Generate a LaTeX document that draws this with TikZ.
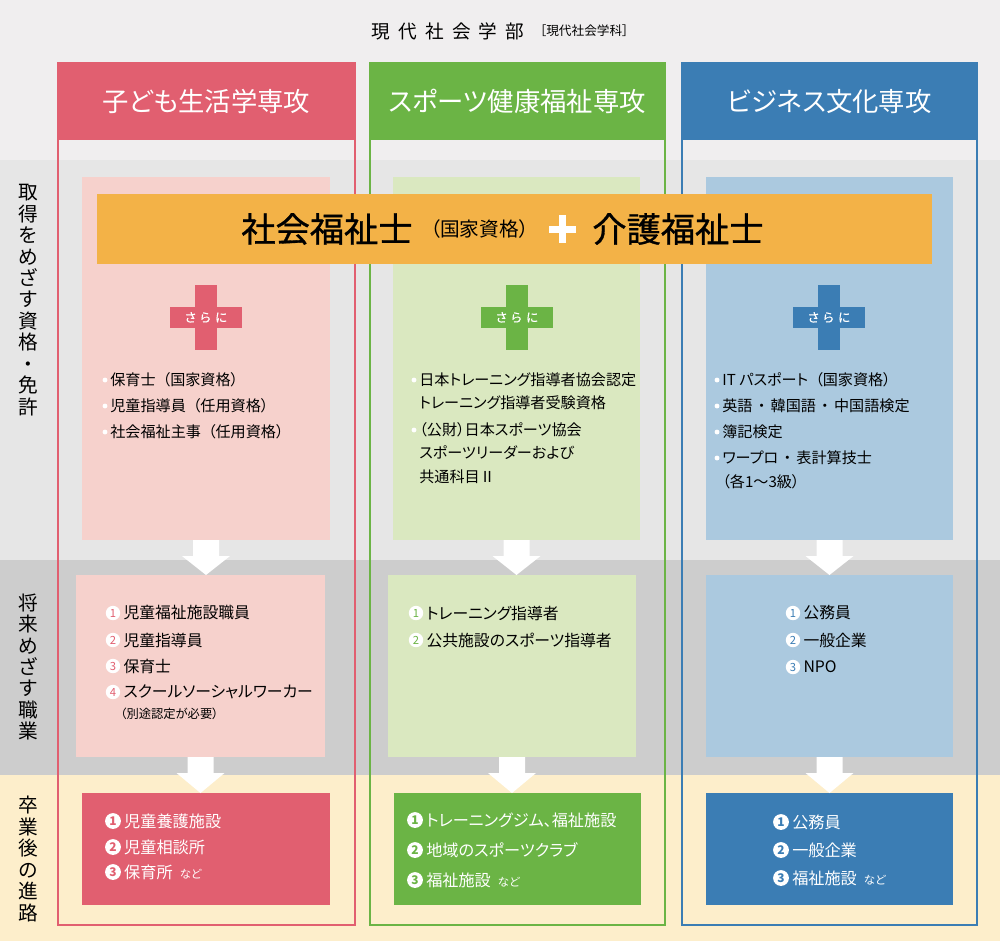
\documentclass[tikz,border=0pt]{standalone}
\usepackage{fontspec}
\setmainfont[RawFeature=+palt]{Noto Sans CJK JP}
\usetikzlibrary{positioning,fit,calc}

\definecolor{pinkD}{HTML}{E15F70}
\definecolor{pinkL}{HTML}{F6D1CC}
\definecolor{greenD}{HTML}{6BB445}
\definecolor{greenL}{HTML}{DAE8C0}
\definecolor{blueD}{HTML}{3B7DB4}
\definecolor{blueL}{HTML}{ABC9DF}
\definecolor{orng}{HTML}{F3B247}
\definecolor{bgTop}{HTML}{F0EEEF}
\definecolor{bandA}{HTML}{E6E6E6}
\definecolor{bandB}{HTML}{CDCDCD}
\definecolor{bandC}{HTML}{FDEECB}

\tikzset{
  panel/.style={fill=#1, inner sep=0, outer sep=0},
  colhead/.style={text=white, font=\fontsize{15}{16}\selectfont},
  sidelabel/.style={align=center, inner sep=0, font=\fontsize{11.2}{12.2}\selectfont},
  sarani/.style={text=white, inner sep=0, font=\fontsize{7}{8}\selectfont\addfontfeature{FakeBold=0.6}},
  item/.style={anchor=west, inner sep=0, font=\fontsize{8.6}{10}\selectfont},
  job/.style={anchor=west, inner sep=0, font=\fontsize{9}{10}\selectfont},
  dest/.style={anchor=west, inner sep=0, text=white, font=\fontsize{9.2}{10}\selectfont},
  numc/.style={circle, fill=white, inner sep=0, minimum size=8.2pt, text=#1, font=\fontsize{6.4}{6.4}\selectfont},
  numd/.style={circle, fill=white, inner sep=0, minimum size=9pt, text=#1, font=\fontsize{6.8}{6.8}\selectfont\bfseries},
  cert/.style={font=\fontsize{19.5}{20}\selectfont\addfontfeature{FakeBold=0.9}},
  flow/.style={fill=white},
}
\newcommand\nado{\hspace{4pt}{\fontsize{6.5}{7}\selectfont など}}
\newcommand\nk{\hspace{3pt}・\hspace{3pt}}
\newcommand\kk{\hspace{4pt}（}
\newcommand\flowarrow[2]{%
  \path (#1.south) coordinate (#1tail) (#1.south |- #2.north) coordinate (#1tip);
  \fill[flow] ($(#1tail)+(-13,0)$) -- ($(#1tail)+(13,0)$) -- ($(#1tail)+(13,16)$)
    -- ($(#1tail)+(24,16)$) -- (#1tip) -- ($(#1tail)+(-24,16)$) -- ($(#1tail)+(-13,16)$) -- cycle;}

\begin{document}
\begin{tikzpicture}[x=0.02cm,y=-0.02cm]
  \useasboundingbox (0,0) rectangle (1000,941);

  % bands
  \fill[bgTop] (0,0) rectangle (1000,160);
  \fill[bandA] (0,160) rectangle (1000,560);
  \fill[bandB] (0,560) rectangle (1000,775);
  \fill[bandC] (0,775) rectangle (1000,941);

  \node (dept) at (448,31) {\fontsize{10.6}{12}\selectfont 現\hspace{4.6pt}代\hspace{4.6pt}社\hspace{4.6pt}会\hspace{4.6pt}学\hspace{4.6pt}部};
  \node[right=2pt of dept, font=\fontsize{7.2}{8}\selectfont] (deptsub) {［現代社会学科］};

  % side labels
  \node[sidelabel] (sideA) at (28,300) {取\\得\\を\\め\\ざ\\す\\資\\格\\・\\免\\許};
  \node[sidelabel] (sideB) at (28,667) {将\\来\\め\\ざ\\す\\職\\業};
  \node[sidelabel] (sideC) at (28,859) {卒\\業\\後\\の\\進\\路};

  % columns
  \draw[pinkD, line width=1.1pt] (58,63) rectangle (355,925);
  \draw[greenD, line width=1.1pt] (370,63) rectangle (665,925);
  \draw[blueD, line width=1.1pt] (682,63) rectangle (977,925);
  \node[panel=pinkD, fit={(58,63) (355,140)}] (headL) {};
  \node[panel=greenD, fit={(370,63) (665,140)}] (headM) {};
  \node[panel=blueD, fit={(682,63) (977,140)}] (headR) {};
  \node[colhead] at (headL.center) {子ども生活学専攻};
  \node[colhead] at (headM.center) {スポーツ健康福祉専攻};
  \node[colhead] at (headR.center) {ビジネス文化専攻};

  % boxes
  \node[panel=pinkL, fit={(82,177) (330,540)}] (capL) {};
  \node[panel=greenL, fit={(393,177) (640,540)}] (capM) {};
  \node[panel=blueL, fit={(706,177) (953,540)}] (capR) {};
  \node[panel=pinkL, fit={(76,575) (325,757)}] (jobL) {};
  \node[panel=greenL, fit={(388,575) (636,757)}] (jobM) {};
  \node[panel=blueL, fit={(706,575) (953,757)}] (jobR) {};
  \node[panel=pinkD, fit={(82,793) (330,905)}] (destL) {};
  \node[panel=greenD, fit={(394,793) (641,905)}] (destM) {};
  \node[panel=blueD, fit={(706,793) (953,905)}] (destR) {};

  \flowarrow{capL}{jobL}
  \flowarrow{capM}{jobM}
  \flowarrow{capR}{jobR}
  \flowarrow{jobL}{destL}
  \flowarrow{jobM}{destM}
  \flowarrow{jobR}{destR}

  % banner
  \node[panel=orng, fit={(97,194) (932,264)}] (banner) {};
  \node[cert] (certA) at (327,229) {社会福祉士};
  \node[right=3pt of certA, font=\fontsize{11.2}{12}\selectfont] (certB) {（国家資格）};
  \node[cert] (certC) at (678,229) {介護福祉士};
  \fill[white] (549,225.5) rectangle (576,232.5);
  \fill[white] (559,215) rectangle (566,243);

  % plus marks
  \foreach \cx/\col/\nm in {206/pinkD/L, 517/greenD/M, 829/blueD/R}{
    \fill[\col] (\cx-11,285) rectangle (\cx+11,350);
    \fill[\col] (\cx-36,307) rectangle (\cx+36,328);
    \node[sarani] (plus\nm) at (\cx,317.5) {さ\hspace{2.5pt}ら\hspace{2.5pt}に};
  }

  % qualifications
  \foreach \y/\b/\t [count=\i] in {380/1/保育士\kk 国家資格）,406/1/児童指導員\kk 任用資格）,432/1/社会福祉主事\kk 任用資格）}{
    \node[item] (qL\i) at (110,\y) {\t};
    \ifnum\b=1 \fill[white] ($(qL\i.west)+(-5,0)$) circle[radius=1.4pt];\fi
  }
  \foreach \y/\b/\t [count=\i] in {380/1/日本トレーニング指導者協会認定,403/0/トレーニング指導者受験資格,430/1/（公財）日本スポーツ協会,453/0/スポーツリーダーおよび,477/0/共通科目Ⅱ}{
    \node[item] (qM\i) at (419,\y) {\t};
    \ifnum\b=1 \fill[white] ($(qM\i.west)+(-5,0)$) circle[radius=1.4pt];\fi
  }
  \foreach \y/\b/\t [count=\i] in {380/1/IT\hspace{2pt}パスポート\kk 国家資格）,406/1/英語\nk 韓国語\nk 中国語検定,432/1/簿記検定,458/1/ワープロ\nk 表計算技士,482/0/（各1〜3級）}{
    \node[item] (qR\i) at (722,\y) {\t};
    \ifnum\b=1 \fill[white] ($(qR\i.west)+(-5,0)$) circle[radius=1.4pt];\fi
  }

  % jobs
  \foreach \y/\n/\t in {613/1/児童福祉施設職員,640/2/児童指導員,666/3/保育士,692/4/スクールソーシャルワーカー}{
    \node[numc=pinkD] (jL\n) at (113,\y) {\n};
    \node[job, right=1.5pt of jL\n] (jLt\n) {\t};
  }
  \node[job, font=\fontsize{7}{8}\selectfont] (jLnote) at (120,714) {（別途認定が必要）};
  \foreach \y/\n/\t in {613/1/トレーニング指導者,640/2/公共施設のスポーツ指導者}{
    \node[numc=greenD] (jM\n) at (416,\y) {\n};
    \node[job, right=1.5pt of jM\n] (jMt\n) {\t};
  }
  \foreach \y/\n/\t in {613/1/公務員,640/2/一般企業,667/3/NPO}{
    \node[numc=blueD] (jR\n) at (793,\y) {\n};
    \node[job, right=1.5pt of jR\n] (jRt\n) {\t};
  }

  % destinations
  \foreach \y/\n/\t in {821/1/児童養護施設,847/2/児童相談所,872/3/保育所\nado}{
    \node[numd=pinkD] (dL\n) at (113,\y) {\n};
    \node[dest, right=1.5pt of dL\n] (dLt\n) {\t};
  }
  \foreach \y/\n/\t in {820/1/トレーニングジム、福祉施設,850/2/地域のスポーツクラブ,880/3/福祉施設\nado}{
    \node[numd=greenD] (dM\n) at (415,\y) {\n};
    \node[dest, right=1.5pt of dM\n] (dMt\n) {\t};
  }
  \foreach \y/\n/\t in {822/1/公務員,850/2/一般企業,878/3/福祉施設\nado}{
    \node[numd=blueD] (dR\n) at (781,\y) {\n};
    \node[dest, right=1.5pt of dR\n] (dRt\n) {\t};
  }
\end{tikzpicture}
\end{document}
